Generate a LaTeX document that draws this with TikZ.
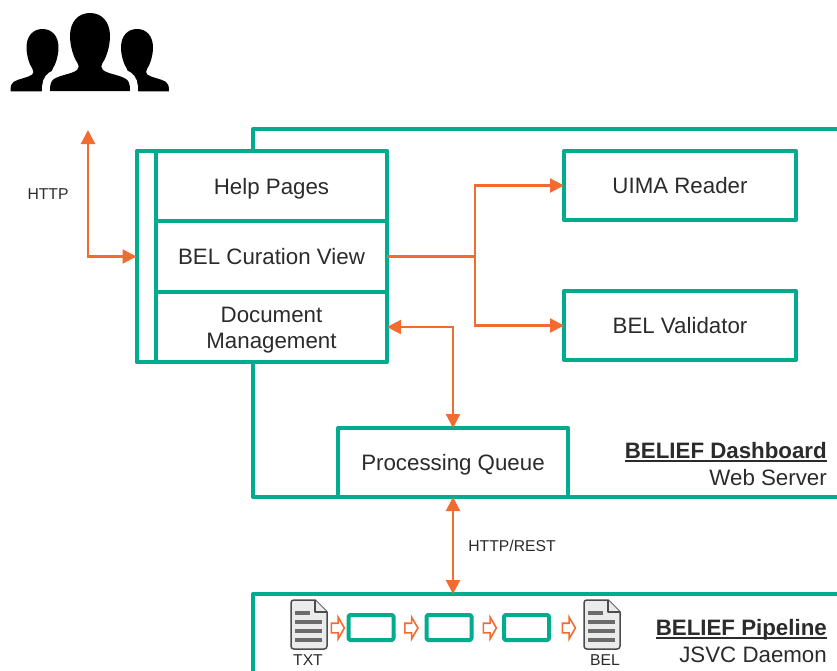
\documentclass[tikz,border=0pt]{standalone}
\usepackage{fontspec}
\setmainfont{Liberation Sans}
\usetikzlibrary{arrows.meta,shapes.arrows}

\definecolor{frameGreen}{HTML}{00AB8E}
\definecolor{flowOrange}{HTML}{F26B31}
\definecolor{inkGrey}{HTML}{2B2B2B}

% one head and shoulders, (#1,#2) is the top of the head
\newcommand{\silhouette}[4]{
  \path[shift={(#1,#2)},scale=#3,#4] (0,0)
  .. controls (-12,0) and (-20,9) .. (-20,23)
  .. controls (-20,34) and (-16,45) .. (-12.5,50)
  .. controls (-11,53) and (-11,55) .. (-13,57)
  .. controls (-18,61) and (-30,62) .. (-36,66)
  .. controls (-39,68) and (-40,71) .. (-40,78)
  -- (40,78)
  .. controls (40,71) and (39,68) .. (36,66)
  .. controls (30,62) and (18,61) .. (13,57)
  .. controls (11,55) and (11,53) .. (12.5,50)
  .. controls (16,45) and (20,34) .. (20,23)
  .. controls (20,9) and (12,0) .. (0,0) -- cycle;
}
% text file icon, (#1,#2) is its upper left corner
\newcommand{\fileicon}[2]{
  \draw[shift={(#1,#2)},fileshape] (3,0) -- (24,0) -- (36,12) -- (36,46)
  .. controls (36,48) and (35,49) .. (33,49) -- (3,49)
  .. controls (1,49) and (0,48) .. (0,46) -- (0,3)
  .. controls (0,1) and (1,0) .. (3,0) -- cycle;
  \draw[shift={(#1,#2)},fileshape] (24,0) -- (24,12) -- (36,12);
  \draw[shift={(#1,#2)},fileline] (4,13) -- (19,13) (4,22) -- (31,22)
  (4,31) -- (31,31) (4,40) -- (31,40);
}
% bold text with a heavy rule close under it
\newcommand{\headline}[1]{\setbox0\hbox{\textbf{#1}}\rlap{\rule[-4.2pt]{\wd0}{2.5pt}}\box0}

\begin{document}
\begin{tikzpicture}[x=1pt,y=-1pt]
  \tikzset{
    box/.style={draw=frameGreen,line width=4pt,fill=white,rectangle,inner sep=0pt,
      outer sep=0pt,text=inkGrey,align=center,line join=round,text height=16pt,text depth=0pt,
      font=\fontsize{22.3}{26}\selectfont},
    stage/.style={box,minimum width=45,minimum height=25,rounded corners=1.5pt},
    flow/.style={draw=flowOrange,line width=2.2pt,>={Triangle[length=14pt,width=14pt]}},
    hop/.style={single arrow,draw=flowOrange,fill=white,line width=1.6pt,inner sep=4pt,
      minimum height=13,minimum width=20,single arrow head extend=6pt,
      single arrow head indent=0pt,single arrow tip angle=120,outer sep=0pt},
    small/.style={text=inkGrey,inner sep=0pt,font=\fontsize{15.7}{18}\selectfont},
    caption/.style={text=inkGrey,inner sep=0pt,anchor=base east,font=\fontsize{22.3}{26}\selectfont},
    figure/.style={fill=black},
    halo/.style={fill=white,draw=white,line width=16pt},
    fileshape/.style={draw=black!70,fill=black!8,line width=1.5pt,line join=round},
    fileline/.style={draw=black!58,line width=3.5pt}
  }
  \useasboundingbox (0,0) rectangle (837,670);

  % users
  \silhouette{42.5}{29}{0.8}{figure}
  \silhouette{137}{29}{0.8}{figure}
  \silhouette{90}{13}{1}{halo}
  \silhouette{90}{13}{1}{figure}

  % dashboard
  \node[box,minimum width=640,minimum height=368] (dash) at (573,313) {};
  \node[box,minimum width=20,minimum height=211] (side) at (146.5,256.5) {};
  \node[box,minimum width=231,minimum height=70.5] (help) at (271.5,186) {Help Pages};
  \node[box,minimum width=231,minimum height=70.5] (view) at (271.5,256.5) {BEL Curation View};
  \node[box,minimum width=231,minimum height=70,text height=43pt] (docs) at (271.5,327) {Document\\Management};
  \node[box,minimum width=232,minimum height=69] (uima) at (680,185.5) {UIMA Reader};
  \node[box,minimum width=232,minimum height=69] (valid) at (680,325.5) {BEL Validator};
  \node[box,minimum width=230,minimum height=69] (queue) at (453,462.5) {Processing Queue};

  \node[caption] (dashname) at (827,458) {\headline{BELIEF Dashboard}};
  \node[caption] (dashhost) at (827,485) {Web Server};

  % pipeline
  \node[box,minimum width=640,minimum height=130] (pipe) at (573,659) {};
  \fileicon{291}{600}
  \fileicon{584}{600}
  \node[small] (txt) at (308,660) {TXT};
  \node[small] (bel) at (605,660) {BEL};
  \foreach \name/\x in {one/371, two/449, three/526.5} {
    \node[stage] (\name) at (\x,627.5) {};
  }
  \foreach \name/\x in {hopa/336.5, hopb/410, hopc/488.5, hopd/567.5} {
    \node[hop] (\name) at (\x,628) {};
  }
  \node[caption] (pipename) at (827,635) {\headline{BELIEF Pipeline}};
  \node[caption] (pipehost) at (827,662) {JSVC Daemon};

  % connectors
  \coordinate (user) at (88,130);
  \coordinate (fork) at (475,256.5);
  \node[small] (http) at (48,194) {HTTP};
  \node[small] (rest) at (512,546) {HTTP/REST};

  \draw[flow,<->] (user) |- (side.west);
  \draw[flow] (view.east) -- (fork);
  \draw[flow,->] (fork) |- (uima.west);
  \draw[flow,->] (fork) |- (valid.west);
  \draw[flow,<->] (docs.east) -| (queue.north);
  \draw[flow,<->] (queue.south) -- (queue.south |- pipe.north);
\end{tikzpicture}
\end{document}
